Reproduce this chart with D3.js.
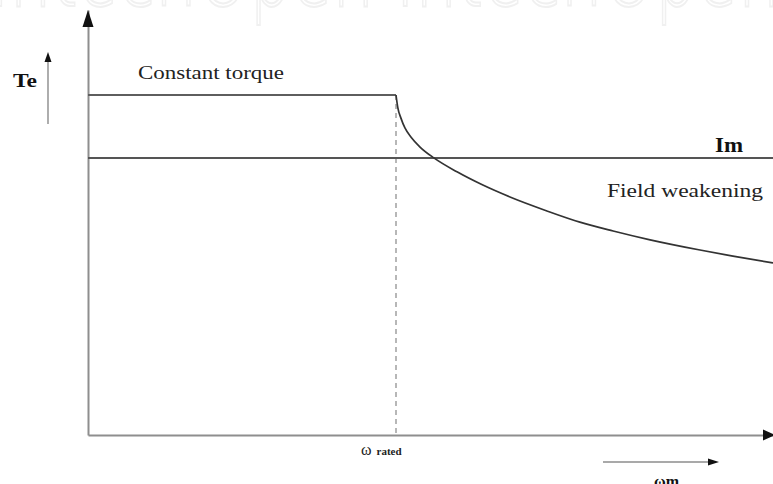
<!DOCTYPE html>
<html>
<head>
<meta charset="utf-8">
<script src="https://cdn.jsdelivr.net/npm/d3@7"></script>
<style>
  html, body { margin: 0; padding: 0; background: #fff; }
  svg { display: block; }
</style>
</head>
<body>
<svg id="chart" width="773" height="484"></svg>
<script>
// ---- data ----
const omegaRated = 1.0;          // rated speed (normalised)
const constantTorque = 1.0;      // Te in constant torque region
const imLevel = 0.815;           // Im level
const fwOmega  = [1.0, 1.006, 1.016, 1.029, 1.049, 1.078, 1.123, 1.198, 1.282, 1.370, 1.490, 1.597, 1.705, 1.825, 1.987, 2.094, 2.224];
const fwTorque = [1.0, 0.962, 0.932, 0.903, 0.876, 0.847, 0.815, 0.774, 0.735, 0.700, 0.659, 0.626, 0.600, 0.574, 0.544, 0.526, 0.506];
const xDomain = [0, 2.224];
const yDomain = [0, 1.25];
const labels = {
  te: "Te", im: "Im", constant: "Constant torque", field: "Field weakening",
  omega: "ω", rated: "rated", omegaM: "ωm", watermark: "IntechOpen IntechOpen"
};

const svg = d3.select("#chart");
const x = d3.scaleLinear().domain(xDomain).range([88, 773]);
const y = d3.scaleLinear().domain(yDomain).range([435, 10]);

// faint watermark at top (only its lower edge shows)
svg.append("text")
  .attr("x", -10).attr("y", 6)
  .attr("font-family", "DejaVu Sans, sans-serif")
  .attr("font-size", 92).attr("font-weight", 300)
  .attr("textLength", 790).attr("lengthAdjust", "spacingAndGlyphs")
  .attr("fill", "none").attr("stroke", "#f0f0f0").attr("stroke-width", 2)
  .text(labels.watermark);

const serif = "Liberation Serif, Times New Roman, serif";

// axes (no ticks)
const xAxis = svg.append("g").attr("transform", `translate(0,${y(0)})`)
  .call(d3.axisBottom(x).tickValues([]).tickSizeOuter(0));
const yAxis = svg.append("g").attr("transform", `translate(${x(0)},0)`)
  .call(d3.axisLeft(y).tickValues([]).tickSizeOuter(0));
[xAxis, yAxis].forEach(g => g.select(".domain").attr("stroke", "#8e8e8e").attr("stroke-width", 2));

// arrowheads on axes
const yTop = y(yDomain[1]);
svg.append("path")
  .attr("d", `M${x(0)},${yTop} L${x(0)-5.5},${yTop+17} L${x(0)+5.5},${yTop+17} Z`)
  .attr("fill", "#111");
const xEnd = x(xDomain[1]);
svg.append("path")
  .attr("d", `M${xEnd+2},${y(0)} L${xEnd-10},${y(0)-5.5} L${xEnd-10},${y(0)+5.5} Z`)
  .attr("fill", "#111");

// dashed rated line
svg.append("line")
  .attr("x1", x(omegaRated)).attr("x2", x(omegaRated))
  .attr("y1", y(constantTorque)).attr("y2", y(0))
  .attr("stroke", "#a0a0a0").attr("stroke-width", 1.5)
  .attr("stroke-dasharray", "5,4");

// constant torque line
svg.append("line")
  .attr("x1", x(0)).attr("x2", x(omegaRated))
  .attr("y1", y(constantTorque)).attr("y2", y(constantTorque))
  .attr("stroke", "#5e5e5e").attr("stroke-width", 2);

// Im line
svg.append("line")
  .attr("x1", x(0)).attr("x2", x(xDomain[1]))
  .attr("y1", y(imLevel)).attr("y2", y(imLevel))
  .attr("stroke", "#555").attr("stroke-width", 2);

// field weakening curve
const pts = fwOmega.map((w, i) => [w, fwTorque[i]]);
svg.append("path")
  .datum(pts)
  .attr("fill", "none").attr("stroke", "#333").attr("stroke-width", 1.7)
  .attr("d", d3.line().x(d => x(d[0])).y(d => y(d[1])).curve(d3.curveMonotoneX));

// Te label and small arrow
svg.append("text").attr("x", 13).attr("y", 87)
  .attr("font-family", serif).attr("font-weight", "bold").attr("font-size", 19)
  .attr("textLength", 24).attr("lengthAdjust", "spacingAndGlyphs")
  .attr("fill", "#111").text(labels.te);
svg.append("line").attr("x1", 48).attr("x2", 48).attr("y1", 124).attr("y2", 60)
  .attr("stroke", "#777").attr("stroke-width", 1.2);
svg.append("path").attr("d", "M48,52 L44.5,62 L51.5,62 Z").attr("fill", "#111");

// Constant torque
svg.append("text").attr("x", 138).attr("y", 79)
  .attr("font-family", serif).attr("font-size", 18.5)
  .attr("textLength", 146).attr("lengthAdjust", "spacingAndGlyphs")
  .attr("fill", "#222").text(labels.constant);

// Im
svg.append("text").attr("x", 715).attr("y", 152)
  .attr("font-family", serif).attr("font-weight", "bold").attr("font-size", 20)
  .attr("textLength", 28).attr("lengthAdjust", "spacingAndGlyphs")
  .attr("fill", "#111").text(labels.im);

// Field weakening
svg.append("text").attr("x", 607).attr("y", 197)
  .attr("font-family", serif).attr("font-size", 19)
  .attr("textLength", 156).attr("lengthAdjust", "spacingAndGlyphs")
  .attr("fill", "#222").text(labels.field);

// omega rated
const rt = svg.append("text").attr("x", 361).attr("y", 455)
  .attr("font-family", serif).attr("fill", "#222");
rt.append("tspan").attr("font-size", 16).attr("font-family", serif).text(labels.omega);
rt.append("tspan").attr("font-size", 11).attr("font-weight", "bold").attr("dx", 5).text(labels.rated);

// omega m small arrow and label
svg.append("line").attr("x1", 603).attr("x2", 710).attr("y1", 462).attr("y2", 462)
  .attr("stroke", "#555").attr("stroke-width", 1.2);
svg.append("path").attr("d", "M719,462 L708,458.5 L708,465.5 Z").attr("fill", "#111");
svg.append("text").attr("x", 654).attr("y", 487)
  .attr("font-family", serif).attr("font-weight", "bold").attr("font-size", 16)
  .attr("fill", "#111").text(labels.omegaM);
</script>
</body>
</html>
